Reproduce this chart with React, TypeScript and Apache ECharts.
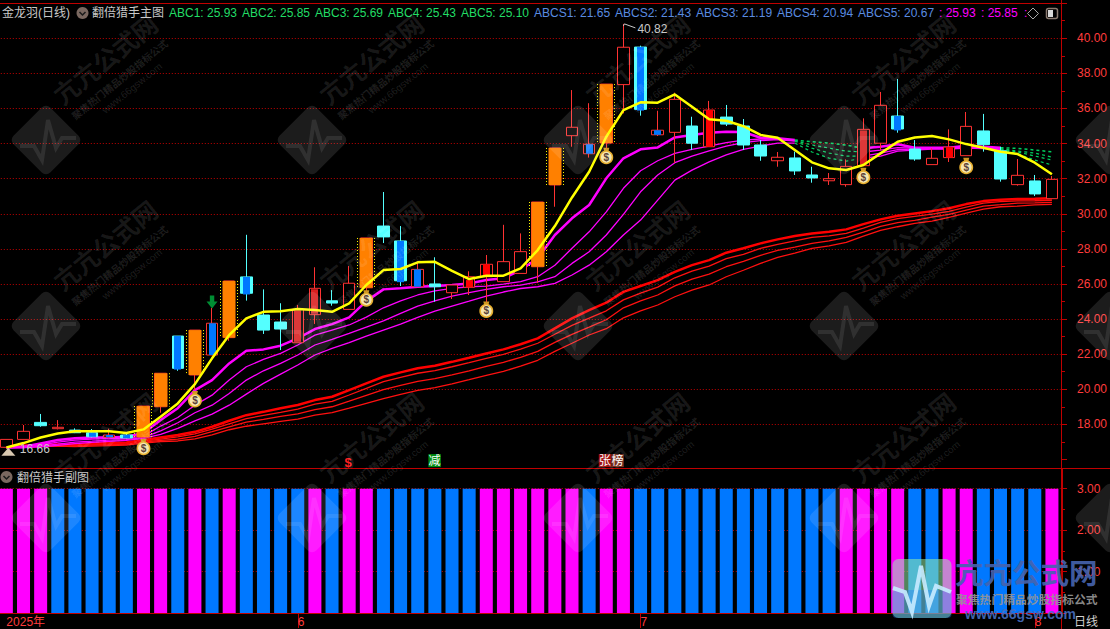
import React, { useEffect, useRef } from "react";
import * as echarts from "echarts";

const dateLabels = ["2025年","","","","","","","","","","","","","","","","","6","","","","","","","","","","","","","","","","","","","","7","","","","","","","","","","","","","","","","","","","","","","","8",""];

// [open, close, low, high]
const candles = [
  [16.69,17.14,16.66,17.14],[17.14,17.60,17.14,17.96],[18.11,17.92,17.86,18.59],[17.75,17.83,17.71,18.24],
  [17.67,17.52,17.50,17.77],[17.52,17.29,17.25,17.73],[17.26,17.39,17.20,17.75],[17.39,17.22,17.20,17.50],
  [17.27,19.04,17.27,19.04],[19.00,20.91,18.66,20.91],[23.03,21.19,21.05,23.03],[20.81,23.37,19.95,23.37],
  [21.95,23.76,21.95,24.63],[22.94,26.17,22.76,26.17],[26.40,25.47,25.05,28.80],[24.23,23.37,23.15,25.69],
  [23.83,23.43,22.23,24.90],[22.65,24.55,22.65,24.80],[24.25,25.75,23.72,26.95],[25.04,24.91,24.76,25.65],
  [24.55,26.04,24.55,27.02],[25.78,28.62,25.50,28.62],[29.30,28.68,28.33,31.24],[28.45,26.18,25.88,29.30],
  [25.84,26.83,25.84,27.27],[26.00,25.84,24.99,27.52],[25.50,25.94,25.14,25.94],[25.81,26.41,25.37,26.72],
  [26.41,27.12,24.50,27.65],[26.13,27.27,26.13,29.37],[26.60,27.84,26.60,28.88],[26.98,30.67,26.05,30.67],
  [31.64,33.75,30.40,33.75],[34.45,34.93,33.82,37.05],[33.42,33.96,33.20,36.30],[34.03,37.39,33.75,37.39],
  [37.36,39.49,35.72,40.82],[39.50,35.95,35.59,39.58],[34.50,34.76,34.43,35.87],[34.64,36.52,32.90,36.90],
  [35.00,34.02,33.63,35.53],[33.82,35.91,33.82,36.43],[35.51,35.11,35.00,36.20],[35.00,33.92,33.63,35.40],
  [33.92,33.29,33.02,34.20],[33.02,33.22,32.68,33.52],[33.18,32.44,32.21,33.54],[32.21,32.04,31.77,32.68],
  [31.88,32.00,31.64,32.32],[31.66,32.70,31.54,33.10],[32.74,34.81,32.74,35.44],[34.02,36.18,33.63,36.94],
  [35.57,34.83,34.62,37.68],[33.69,33.12,33.02,34.20],[32.80,33.16,32.80,33.73],[33.20,33.80,32.95,34.81],
  [33.31,34.98,33.31,35.80],[34.72,33.94,33.54,35.69],[33.59,31.98,31.83,33.82],[31.66,32.19,31.60,33.12],
  [31.87,31.13,31.01,32.21],[30.86,31.96,30.86,32.15],
];

// body overlays: [index, low, high]
const orangeBodies = [[8,17.27,19.04],[9,19.00,20.91],[11,20.81,23.37],[13,22.94,26.17],[21,25.78,28.62],[31,26.98,30.67],[32,31.64,33.75],[35,34.03,37.39]];
const blueBodies = [[5,17.29,17.52],[6,17.26,17.39],[7,17.22,17.39],[10,21.12,23.03],[12,21.95,23.76],[14,25.40,26.40],[23,26.10,28.45],[24,25.84,26.83],[34,33.42,33.96],[37,35.88,39.50],[38,34.50,34.76],[52,34.75,35.57]];
const redBodies = [[27,25.81,26.22],[28,26.41,27.12],[41,33.82,35.91],[55,33.20,33.80]];
const hatchedBodies = [[17,22.70,24.50],[18,24.30,25.70],[50,32.80,34.75]];

const yellowLine = [16.68,16.93,17.25,17.48,17.60,17.61,17.61,17.50,17.71,18.43,19.19,20.29,21.76,23.09,24.04,24.41,24.45,24.57,24.51,24.41,24.89,25.94,26.79,26.85,27.23,27.26,26.75,26.28,26.47,26.47,26.89,27.93,29.30,30.93,32.39,34.39,35.91,36.35,36.33,36.80,36.10,35.38,35.30,34.99,34.49,34.33,33.63,32.93,32.59,32.49,32.78,33.44,34.10,34.35,34.43,34.24,33.97,33.76,33.53,33.40,32.91,32.25];

const abcThick = [16.68,16.72,16.91,17.10,17.20,17.25,17.25,17.29,17.50,18.24,18.92,19.95,20.52,21.47,22.19,22.27,22.48,22.90,23.43,23.71,24.09,25.02,25.69,25.76,25.84,25.88,25.94,26.03,26.22,26.32,26.79,27.46,28.79,29.74,30.50,32.02,33.16,33.67,33.78,34.35,34.49,34.62,34.68,34.66,34.33,34.30,34.20,34.10,34.03,33.91,33.73,33.82,33.96,33.76,33.76,33.76,33.88,33.82,33.76,33.73,33.63,33.53];
const abcThinA = [16.67,16.67,16.82,16.99,17.10,17.16,17.19,17.21,17.33,17.90,18.39,19.09,19.66,20.52,21.28,21.70,22.04,22.52,23.08,23.37,23.66,24.11,24.64,25.04,25.37,25.61,25.75,25.84,25.88,25.99,26.13,26.41,27.07,28.03,28.97,30.11,31.45,32.45,33.02,33.44,33.67,33.86,34.05,34.20,34.26,34.26,34.17,33.92,33.74,33.57,33.52,33.63,33.77,33.74,33.74,33.74,33.80,33.77,33.72,33.57,33.46,33.23];
const abcThinB = [16.67,16.67,16.76,16.87,16.99,17.04,17.10,17.13,17.25,17.63,18.09,18.66,19.09,19.76,20.52,21.05,21.47,21.95,22.52,22.84,23.18,23.54,23.90,24.32,24.74,25.04,25.31,25.50,25.69,25.84,25.93,26.12,26.41,27.17,27.83,28.79,29.96,31.25,32.21,32.91,33.29,33.59,33.86,34.05,34.17,34.23,34.14,33.74,33.46,33.29,33.29,33.46,33.66,33.69,33.72,33.72,33.77,33.74,33.69,33.52,33.29,33.06];
const abcThinC = [16.67,16.67,16.72,16.80,16.90,16.97,17.03,17.08,17.20,17.42,17.77,18.20,18.58,19.09,19.72,20.33,20.86,21.38,21.95,22.33,22.65,23.03,23.37,23.71,24.09,24.45,24.74,25.02,25.31,25.54,25.74,25.84,26.03,26.51,27.07,27.83,28.79,29.64,30.78,31.92,32.49,32.96,33.35,33.67,33.86,34.03,34.03,33.52,33.17,33.00,33.17,33.29,33.57,33.63,33.69,33.69,33.74,33.72,33.66,33.40,33.06,32.78];

const abcsThick = [16.76,16.79,16.82,16.85,16.87,16.90,16.93,16.96,17.10,17.25,17.39,17.57,17.86,18.20,18.52,18.71,18.91,19.10,19.38,19.57,19.95,20.33,20.71,20.96,21.19,21.34,21.56,21.79,22.04,22.27,22.56,22.90,23.47,24.04,24.51,24.93,25.55,25.88,26.22,26.69,27.07,27.36,27.78,28.03,28.31,28.54,28.73,28.88,28.97,29.11,29.41,29.68,29.89,30.02,30.15,30.31,30.55,30.72,30.80,30.84,30.85,30.88];
const abcsThinA = [16.73,16.76,16.79,16.82,16.81,16.84,16.87,16.90,17.04,17.16,17.28,17.46,17.72,18.03,18.32,18.51,18.68,18.87,19.15,19.31,19.67,20.05,20.43,20.68,20.91,21.06,21.28,21.51,21.76,21.99,22.28,22.62,23.13,23.64,24.05,24.47,25.09,25.48,25.82,26.35,26.73,27.02,27.44,27.69,28.03,28.26,28.45,28.65,28.74,28.88,29.18,29.51,29.72,29.85,29.98,30.14,30.38,30.61,30.69,30.73,30.74,30.77];
const abcsThinB = [16.70,16.73,16.76,16.79,16.78,16.81,16.84,16.87,16.99,17.08,17.16,17.31,17.58,17.86,18.12,18.28,18.45,18.59,18.84,19.00,19.32,19.65,19.97,20.22,20.45,20.60,20.82,21.05,21.30,21.53,21.82,22.16,22.67,23.13,23.54,23.96,24.64,25.03,25.37,25.89,26.27,26.56,26.98,27.29,27.63,27.91,28.10,28.31,28.46,28.65,28.95,29.28,29.49,29.62,29.81,29.97,30.21,30.44,30.52,30.61,30.62,30.65];
const abcsThinC = [16.67,16.70,16.73,16.76,16.73,16.76,16.79,16.82,16.93,17.02,17.05,17.17,17.40,17.69,17.89,18.03,18.17,18.30,18.52,18.66,18.92,19.19,19.46,19.71,19.94,20.09,20.31,20.54,20.79,21.02,21.31,21.65,22.16,22.62,23.09,23.45,24.07,24.46,24.80,25.27,25.65,25.94,26.41,26.78,27.17,27.51,27.76,28.03,28.17,28.37,28.73,29.05,29.26,29.45,29.58,29.80,30.04,30.26,30.40,30.44,30.51,30.54];

const risingRanges = [[0, 46], [50, 58]];
const fallingRanges = [[46, 50], [58, 61]];

const moneyBags = [[8,16.72],[11,19.44],[21,25.19],[28,24.55],[35,33.31],[50,32.17],[56,32.74]];
const extremes = [[36,40.82],[0,16.66]];
const greenArrow = [[12,24.97]];
const tags = [[20,15.93,"$"],[25,15.93,"减"],[35,15.93,"张榜"]];

const subValues = [3,3,3,3,3,3,3,3,3,3,3,3,3,3,3,3,3,3,3,3,3,3,3,3,3,3,3,3,3,3,3,3,3,3,3,3,3,3,3,3,3,3,3,3,3,3,3,3,3,3,3,3,3,3,3,3,3,3,3,3,3,3];
// 1 = magenta, 0 = blue
const subSignal = [1,1,1,0,0,0,0,0,1,1,0,1,0,1,0,0,0,0,1,0,1,1,0,0,0,0,0,0,1,1,1,1,1,1,0,1,1,0,0,0,0,0,0,0,0,0,0,0,0,1,1,1,1,0,0,1,1,0,0,0,0,1];

const mainTicks = { min: 16, max: 42, interval: 2 };
const subTicks = { min: 0, max: 3.5, interval: 1 };

const header = [
  { text: "金龙羽(日线)", x: 2, fill: "#c8c8c8" },
  { text: "翻倍猎手主图", x: 92, fill: "#c8c8c8" },
  { text: "ABC1: 25.93", x: 169, fill: "#22dd66" },
  { text: "ABC2: 25.85", x: 242, fill: "#22dd66" },
  { text: "ABC3: 25.69", x: 315, fill: "#22dd66" },
  { text: "ABC4: 25.43", x: 388, fill: "#22dd66" },
  { text: "ABC5: 25.10", x: 461, fill: "#22dd66" },
  { text: "ABCS1: 21.65", x: 534, fill: "#5a8ce0" },
  { text: "ABCS2: 21.43", x: 615, fill: "#5a8ce0" },
  { text: "ABCS3: 21.19", x: 696, fill: "#5a8ce0" },
  { text: "ABCS4: 20.94", x: 777, fill: "#5a8ce0" },
  { text: "ABCS5: 20.67", x: 858, fill: "#5a8ce0" },
  { text: ": 25.93", x: 939, fill: "#ff00ff" },
  { text: ": 25.85", x: 981, fill: "#ff00ff" },
  { text: ":", x: 1024, fill: "#ff00ff" },
];

const FONT = '"Liberation Sans", "Noto Sans CJK SC", sans-serif';
const LINE_RED = "#c00000";
const TEXT_RED = "#ff3c3c";
const PLOT_LEFT = -2.2;
const PLOT_WIDTH = 1062.7;

function pick(values: number[], ranges: number[][]) {
  return values.map((v, i) => (ranges.some(([a, b]) => i >= a && i <= b) ? v : null));
}

function lineSeries(name: string, data: any[], color: string, width: number, z: number, dash?: any) {
  return {
    name, type: "line", data, showSymbol: false, symbol: "none", z, silent: true,
    xAxisIndex: 0, yAxisIndex: 0,
    lineStyle: { color, width, type: dash || "solid" },
  };
}

function bodyItem(w: number, fill: string) {
  return (_: any, api: any) => {
    const lo = api.coord([api.value(0), api.value(1)]);
    const hi = api.coord([api.value(0), api.value(2)]);
    return { type: "rect", shape: { x: Math.round(lo[0] - w / 2), y: hi[1], width: w, height: lo[1] - hi[1] }, style: { fill } };
  };
}

function orangeItem(_: any, api: any) {
  const lo = api.coord([api.value(0), api.value(1)]);
  const hi = api.coord([api.value(0), api.value(2)]);
  const cx = Math.round(lo[0]);
  const side = (x: number) => ({
    type: "line", shape: { x1: x, y1: hi[1], x2: x, y2: lo[1] },
    style: { stroke: "#ffff00", lineWidth: 1, lineDash: [1, 2] },
  });
  return {
    type: "group",
    children: [
      { type: "rect", shape: { x: cx - 6.5, y: hi[1], width: 13, height: lo[1] - hi[1] }, style: { fill: "#ff8000" } },
      side(cx - 8.5), side(cx + 8.5),
    ],
  };
}

function bagItem(_: any, api: any) {
  const p = api.coord([api.value(0), api.value(1)]);
  return {
    type: "group", x: p[0], y: p[1],
    children: [
      { type: "polygon", shape: { points: [[-3, -8], [3, -8], [2, -4], [-2, -4]] }, style: { fill: "#d09820" } },
      { type: "circle", shape: { cx: 0, cy: 1.5, r: 6.2 }, style: { fill: "#f6e7b0", stroke: "#e8b030", lineWidth: 1.5 } },
      { type: "text", style: { text: "$", x: 0, y: 1.5, fill: "#5a4038", font: 'bold 10px "Liberation Sans"', align: "center", verticalAlign: "middle" } },
    ],
  };
}

function extremeItem(params: any, api: any) {
  const p = api.coord([api.value(0), api.value(1)]);
  const isHigh = params.dataIndex === 0;
  const dy = isHigh ? 5.5 : 1.5;
  return {
    type: "group", x: p[0], y: p[1],
    children: [
      isHigh
        ? { type: "polyline", shape: { points: [[0, 2], [1, 0], [12, 4]] }, style: { stroke: "#c8c8c8", fill: "none", lineWidth: 1 } }
        : { type: "polygon", shape: { points: [[2, 0], [9, 8], [-5, 8]] }, style: { fill: "#d8c8b0" } },
      { type: "text", style: { text: api.value(1).toFixed(2), x: isHigh ? 14 : 13.5, y: dy, fill: "#c8c8c8", font: `12px ${FONT}`, verticalAlign: "middle" } },
    ],
  };
}

function tagItem(params: any, api: any) {
  const p = api.coord([api.value(0), api.value(1)]);
  const label = tags[params.dataIndex][2] as string;
  if (label === "$") {
    return { type: "text", style: { text: "$", x: p[0] - 1, y: p[1] + 1.5, fill: "#ff2020", font: `bold 13px ${FONT}`, align: "center", verticalAlign: "middle" } };
  }
  const bgs = label === "减" ? ["#008c10"] : ["#a01010", "#7a3020"];
  const startX = label === "减" ? p[0] - 6.5 : p[0] - 7.5;
  return {
    type: "group",
    children: Array.from(label).flatMap((ch, k) => [
      { type: "rect", shape: { x: startX + k * 12.5, y: p[1] - 6.5, width: 12.5, height: 13 }, style: { fill: bgs[k] } },
      { type: "text", style: { text: ch, x: startX + k * 12.5 + 6.25, y: p[1], fill: "#ffffff", font: `12px ${FONT}`, align: "center", verticalAlign: "middle" } },
    ]),
  };
}

function watermarks() {
  const out: any[] = [];
  const cols = [46, 312, 578, 844, 1110];
  const rows = [140, 326, 518];
  for (const y of rows) {
    for (const x of cols) {
      out.push({
        type: "rect", x, y, rotation: Math.PI / 4, silent: true, z: 90,
        shape: { x: -26, y: -26, width: 52, height: 52, r: 6 }, style: { fill: "rgba(255,255,255,0.11)" },
      });
      out.push({
        type: "polyline", x, y, silent: true, z: 90,
        shape: { points: [[-26, 6], [-12, 6], [-4, 20], [2, -20], [10, 8], [16, -2], [30, -2]] },
        style: { stroke: "rgba(255,255,255,0.09)", lineWidth: 4, fill: "none" },
      });
      if (x > 1000) continue;
      const texts = [
        { text: "亢亢公式网", dx: 60, dy: -80, font: `bold 25px ${FONT}`, a: 0.1 },
        { text: "聚焦热门精品炒股指标公式", dx: 74, dy: -60, font: `bold 10px ${FONT}`, a: 0.12 },
        { text: "www.66gsw.com", dx: 86, dy: -52, font: `10px ${FONT}`, a: 0.12 },
      ];
      for (const t of texts) {
        out.push({
          type: "text", x: x + t.dx, y: y + t.dy, rotation: 0.68, silent: true, z: 90,
          style: { text: t.text, fill: `rgba(255,255,255,${t.a})`, font: t.font, align: "center", verticalAlign: "middle" },
        });
      }
    }
  }
  return out;
}

function frame() {
  const hline = (y: number, x2: number) => ({ type: "line", silent: true, z: 50, shape: { x1: 0, y1: y, x2, y2: y }, style: { stroke: "#c00000", lineWidth: 1 } });
  const headerTexts = header.map((h) => ({
    type: "text", silent: true, z: 60,
    style: { text: h.text, x: h.x, y: 13, fill: h.fill, font: `12px ${FONT}`, verticalAlign: "middle" },
  }));
  const chevron = (cx: number, cy: number) => [
    { type: "circle", silent: true, z: 60, shape: { cx, cy, r: 6 }, style: { fill: "#7a6860" } },
    { type: "polyline", silent: true, z: 61, shape: { points: [[cx - 3, cy - 1], [cx, cy + 2], [cx + 3, cy - 1]] }, style: { stroke: "#1a1a1a", lineWidth: 1.5, fill: "none" } },
  ];
  return [
    hline(3.5, 1062), hline(468.5, 1110), hline(613.5, 1062),
    { type: "line", silent: true, z: 50, shape: { x1: 1061.5, y1: 0, x2: 1061.5, y2: 629 }, style: { stroke: "#c00000", lineWidth: 1 } },
    { type: "line", silent: true, z: 50, shape: { x1: 1062.5, y1: 468, x2: 1062.5, y2: 614 }, style: { stroke: "#c00000", lineWidth: 1 } },
    ...headerTexts,
    ...chevron(82.5, 13),
    ...chevron(6.5, 477),
    { type: "text", silent: true, z: 60, style: { text: "翻倍猎手副图", x: 17, y: 477.5, fill: "#c8c8c8", font: `12px ${FONT}`, verticalAlign: "middle" } },
    { type: "polygon", silent: true, z: 60, shape: { points: [[1033, 8], [1038.5, 13.5], [1033, 19], [1027.5, 13.5]] }, style: { stroke: "#a8a8a8", fill: "none", lineWidth: 1 } },
    { type: "rect", silent: true, z: 60, shape: { x: 1046.5, y: 8.5, width: 11, height: 10, r: 2 }, style: { stroke: "#8a7a70", fill: "none", lineWidth: 1.5 } },
    { type: "rect", silent: true, z: 61, shape: { x: 1048, y: 10, width: 5, height: 7 }, style: { fill: "#d8d8d8" } },
    { type: "text", silent: true, z: 60, style: { text: "日线", x: 1074, y: 622, fill: "#d0d0d0", font: `12px ${FONT}`, verticalAlign: "middle" } },
    // corner logo
    { type: "rect", silent: true, z: 95, shape: { x: 892.5, y: 559, width: 59, height: 59, r: 6 }, style: { fill: "rgba(150,240,170,0.55)" } },
    { type: "rect", silent: true, z: 95, shape: { x: 892.5, y: 590, width: 59, height: 28, r: 4 }, style: { fill: "rgba(40,120,255,0.35)" } },
    { type: "polyline", silent: true, z: 96, shape: { points: [[893, 588], [905, 592], [912, 612], [921, 566], [929, 606], [936, 586], [951, 592]] }, style: { stroke: "rgba(200,235,255,0.9)", lineWidth: 4, fill: "none" } },
    { type: "text", silent: true, z: 96, style: { text: "亢亢公式网", x: 955, y: 574, fill: "rgba(70,100,175,0.92)", font: `bold 28.5px ${FONT}`, verticalAlign: "middle" } },
    { type: "text", silent: true, z: 96, style: { text: "聚焦热门精品炒股指标公式", x: 956, y: 600, fill: "rgba(150,150,150,0.92)", font: `bold 11.8px ${FONT}`, verticalAlign: "middle" } },
    { type: "text", silent: true, z: 96, style: { text: "www.66gsw.com", x: 965, y: 614, fill: "rgba(70,110,190,0.92)", font: `bold 14px ${FONT}`, verticalAlign: "middle" } },
  ];
}

export default function App() {
  const ref = useRef<HTMLDivElement>(null);
  useEffect(() => {
    document.body.style.margin = "0";
    document.body.style.background = "#000";
    const chart = echarts.init(ref.current!, undefined, { renderer: "svg" });
    const yLabel = (fn: any) => ({
      color: TEXT_RED, fontSize: 12, fontFamily: FONT, margin: 15, showMinLabel: false, showMaxLabel: false, formatter: fn,
    });
    const dotted = { color: LINE_RED, width: 1, type: [1, 2] };
    chart.setOption({
      animation: false,
      backgroundColor: "#000000",
      grid: [
        { left: PLOT_LEFT, width: PLOT_WIDTH, top: 3.2, height: 456.2, outerBoundsMode: "none" },
        { left: PLOT_LEFT, width: PLOT_WIDTH, top: 468, height: 145, outerBoundsMode: "none" },
      ],
      xAxis: [
        { type: "category", gridIndex: 0, data: dateLabels, show: false },
        {
          type: "category", gridIndex: 1, data: dateLabels,
          axisLine: { show: false },
          axisTick: {
            show: true, length: 15, alignWithLabel: true,
            interval: (_: number, v: string) => /^\d$/.test(v),
            lineStyle: { color: LINE_RED },
          },
          axisLabel: {
            show: true, interval: (_: number, v: string) => v !== "",
            color: TEXT_RED, fontSize: 12, fontFamily: FONT, align: "left", margin: 3,
          },
        },
      ],
      yAxis: [
        {
          type: "value", gridIndex: 0, position: "right", offset: 1.5, ...mainTicks,
          axisLine: { show: false },
          axisTick: { show: true, length: 5, lineStyle: { color: LINE_RED } },
          minorTick: { show: true, splitNumber: 2, length: 3, lineStyle: { color: LINE_RED } },
          splitLine: { show: true, showMinLine: false, showMaxLine: false, lineStyle: dotted },
          axisLabel: yLabel((v: number) => v.toFixed(2)),
        },
        {
          type: "value", gridIndex: 1, position: "right", offset: 1.5, ...subTicks,
          axisLine: { show: false },
          axisTick: { show: true, length: 5, lineStyle: { color: LINE_RED } },
          minorTick: { show: true, splitNumber: 2, length: 3, lineStyle: { color: LINE_RED } },
          splitLine: { show: true, showMinLine: false, showMaxLine: false, lineStyle: dotted },
          axisLabel: yLabel((v: number) => v.toFixed(2)),
        },
      ],
      series: [
        lineSeries("ABCS5", abcsThinC, "#ff1010", 1.3, 2),
        lineSeries("ABCS4", abcsThinB, "#ff1010", 1.3, 2),
        lineSeries("ABCS3", abcsThinA, "#ff1010", 1.3, 2),
        lineSeries("ABCS1", abcsThick, "#ff0000", 2.5, 2),
        ...[abcThinC, abcThinB, abcThinA].flatMap((vals, k) => [
          lineSeries(`ABC${5 - k}`, pick(vals, risingRanges), "#ff00ff", 1.3, 3),
          lineSeries(`ABC${5 - k} 降`, pick(vals, fallingRanges), "#00d060", 1.2, 3, [3, 3]),
        ]),
        lineSeries("ABC1", pick(abcThick, risingRanges), "#ff00ff", 2.5, 3),
        lineSeries("ABC1 降", pick(abcThick, fallingRanges), "#00d060", 1.5, 3, [3, 3]),
        {
          name: "K线", type: "candlestick", xAxisIndex: 0, yAxisIndex: 0, z: 4, silent: true,
          data: candles, barWidth: 12,
          itemStyle: { color: "#000000", color0: "#54ffff", borderColor: "#ff3232", borderColor0: "#54ffff", borderWidth: 1 },
        },
        { name: "涨停", type: "custom", xAxisIndex: 0, yAxisIndex: 0, z: 5, silent: true, data: orangeBodies, encode: { x: 0, y: [1, 2] }, renderItem: orangeItem },
        { name: "蓝", type: "custom", xAxisIndex: 0, yAxisIndex: 0, z: 5, silent: true, data: blueBodies, encode: { x: 0, y: [1, 2] }, renderItem: bodyItem(7, "#0078ff") },
        { name: "红", type: "custom", xAxisIndex: 0, yAxisIndex: 0, z: 5, silent: true, data: redBodies, encode: { x: 0, y: [1, 2] }, renderItem: bodyItem(7, "#ff0000") },
        { name: "红点", type: "custom", xAxisIndex: 0, yAxisIndex: 0, z: 5, silent: true, data: hatchedBodies, encode: { x: 0, y: [1, 2] }, renderItem: bodyItem(7, "#d82020") },
        lineSeries("主线", yellowLine, "#ffff00", 2.5, 6),
        { name: "钱袋", type: "custom", xAxisIndex: 0, yAxisIndex: 0, z: 7, silent: true, data: moneyBags, encode: { x: 0, y: 1 }, renderItem: bagItem },
        { name: "极值", type: "custom", xAxisIndex: 0, yAxisIndex: 0, z: 7, silent: true, data: extremes, encode: { x: 0, y: 1 }, renderItem: extremeItem },
        {
          name: "箭头", type: "scatter", xAxisIndex: 0, yAxisIndex: 0, z: 7, silent: true, data: greenArrow,
          symbol: "path://M3,0h4v6h3l-5,7l-5,-7h3z", symbolSize: [11, 13], itemStyle: { color: "#00b040" },
        },
        { name: "标记", type: "custom", xAxisIndex: 0, yAxisIndex: 0, z: 7, silent: true, data: tags.map((t) => [t[0], t[1]]), encode: { x: 0, y: 1 }, renderItem: tagItem },
        {
          name: "副图", type: "bar", xAxisIndex: 1, yAxisIndex: 1, z: 4, silent: true, barWidth: 13,
          data: subValues.map((v, i) => ({ value: v, itemStyle: { color: subSignal[i] ? "#ff00ff" : "#0078ff" } })),
        },
      ],
      graphic: { elements: [...watermarks(), ...frame()] },
    });
    return () => chart.dispose();
  }, []);
  return <div ref={ref} style={{ position: "fixed", left: 0, top: 0, width: 1110, height: 629, background: "#000" }} />;
}
